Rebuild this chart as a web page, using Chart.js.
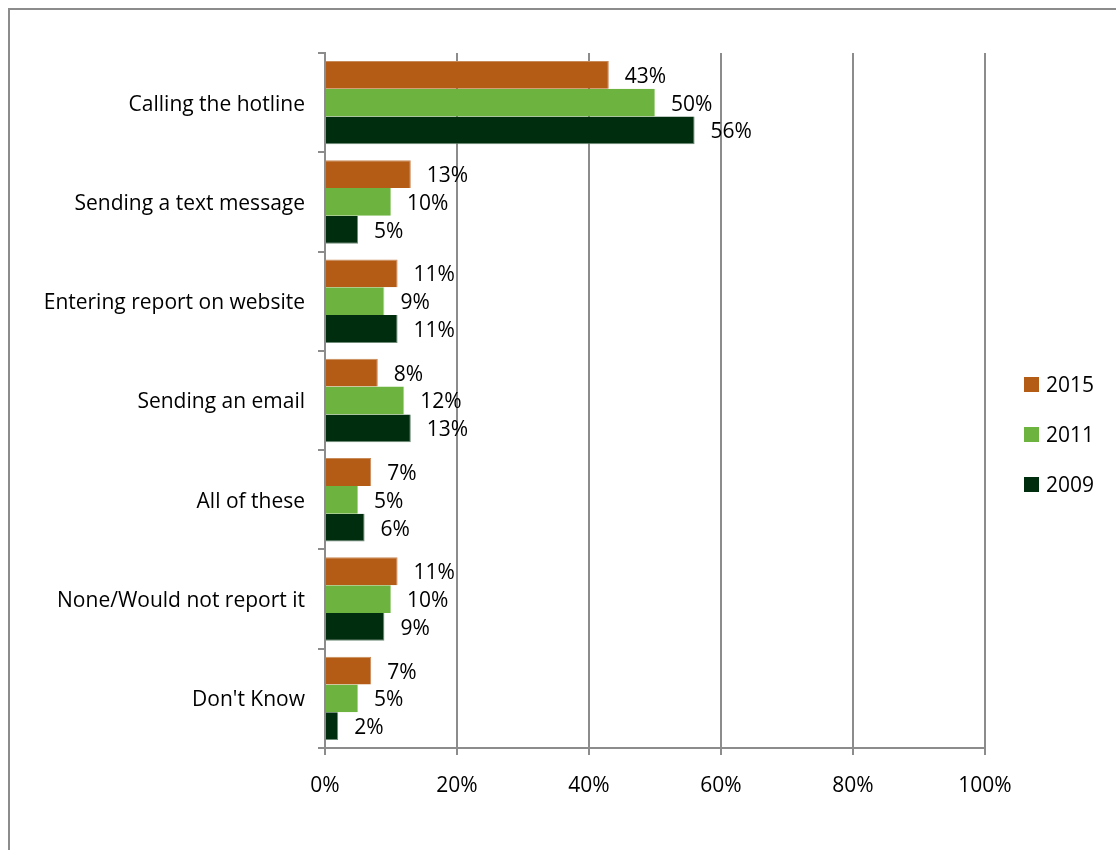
<!DOCTYPE html>
<html>
<head>
<meta charset="utf-8">
<script src="https://cdn.jsdelivr.net/npm/chart.js@4.4.1/dist/chart.umd.min.js"></script>
<style>
  html, body { margin: 0; padding: 0; background: #fff; overflow: hidden; }
  #frame {
    position: absolute; left: 8px; top: 8px; width: 1200px; height: 900px;
    border: 2px solid #8c8c8c; box-sizing: border-box;
  }
  #wrap { position: absolute; left: 0; top: 0; width: 1116px; height: 850px; }
  #legend {
    position: absolute; left: 1024px; top: 371px;
    font-family: "Open Sans", sans-serif; font-size: 21px; color: #000;
  }
  .item { display: flex; align-items: center; height: 26px; margin-bottom: 24px; }
  .swatch { width: 15px; height: 15px; margin-right: 7px; }
</style>
</head>
<body>
<div id="frame"></div>
<div id="wrap"><canvas id="chart" width="1116" height="850"></canvas></div>
<div id="legend"></div>
<script>
const categories = [
  "Calling the hotline",
  "Sending a text message",
  "Entering report on website",
  "Sending an email",
  "All of these",
  "None/Would not report it",
  "Don't Know"
];
const values2015 = [43, 13, 11, 8, 7, 11, 7];
const values2011 = [50, 10, 9, 12, 5, 10, 5];
const values2009 = [56, 5, 11, 13, 6, 9, 2];
const xTicks = [0, 20, 40, 60, 80, 100];

const FONT = "Open Sans";
const GRID = "#8c8c8c";

const barLabels = {
  id: "barLabels",
  afterDatasetsDraw(chart) {
    const ctx = chart.ctx;
    ctx.save();
    ctx.font = `21px "${FONT}"`;
    ctx.fillStyle = "#000";
    ctx.textAlign = "left";
    ctx.textBaseline = "middle";
    chart.data.datasets.forEach((ds, i) => {
      chart.getDatasetMeta(i).data.forEach((bar, j) => {
        ctx.fillText(`${ds.data[j]}%`, bar.x + 16, bar.y + 2);
      });
    });
    ctx.restore();
  }
};

const chart = new Chart(document.getElementById("chart"), {
  type: "bar",
  data: {
    labels: categories,
    datasets: [
      { label: "2015", data: values2015, backgroundColor: "#b45b15", borderColor: "#c98a5a", borderWidth: { top: 1, right: 1, bottom: 0, left: 0 } },
      { label: "2011", data: values2011, backgroundColor: "#6db33f", borderColor: "#a7d38a", borderWidth: { top: 0, right: 1, bottom: 0, left: 0 } },
      { label: "2009", data: values2009, backgroundColor: "#002d0e", borderColor: "#6f8a77", borderWidth: { top: 0, right: 1, bottom: 1, left: 0 } }
    ]
  },
  options: {
    indexAxis: "y",
    responsive: false,
    animation: false,
    layout: { padding: { top: 53, right: 131, bottom: 0, left: 0 } },
    datasets: { bar: { categoryPercentage: 0.84, barPercentage: 1 } },
    plugins: { legend: { display: false }, tooltip: { enabled: false } },
    scales: {
      x: {
        min: 0,
        max: 100,
        afterBuildTicks(scale) { scale.ticks = xTicks.map((v) => ({ value: v })); },
        afterFit(scale) { scale.height = 102; },
        grid: { color: GRID, lineWidth: 2, tickLength: 7 },
        border: { display: true, color: GRID, width: 2 },
        ticks: {
          padding: 18,
          color: "#000",
          font: { family: FONT, size: 21 },
          callback: (v) => `${v}%`
        }
      },
      y: {
        afterFit(scale) { scale.width = 325; },
        grid: { drawOnChartArea: false, color: GRID, lineWidth: 2, tickLength: 7 },
        border: { display: true, color: GRID, width: 2 },
        ticks: {
          padding: 13,
          labelOffset: 2,
          color: "#000",
          font: { family: FONT, size: 21 }
        }
      }
    }
  },
  plugins: [barLabels]
});

document.getElementById("legend").innerHTML = chart.data.datasets
  .map((ds) => `<div class="item"><span class="swatch" style="background:${ds.backgroundColor}"></span>${ds.label}</div>`)
  .join("");
</script>
</body>
</html>
